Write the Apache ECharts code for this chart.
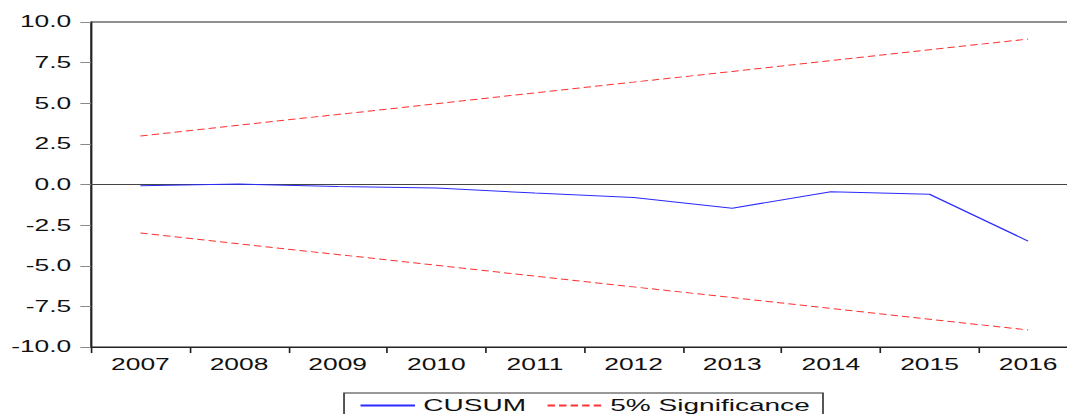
<!DOCTYPE html>
<html>
<head>
<meta charset="utf-8">
<script src="https://cdn.jsdelivr.net/npm/echarts@6/dist/echarts.min.js"></script>
<style>
html,body{margin:0;padding:0;overflow:hidden;background:#fff;width:1067px;height:414px;}
#chart{width:654px;height:414px;transform:scaleX(1.65);transform-origin:0 0;}
</style>
</head>
<body>
<div id="chart"></div>
<script>
const years = ['2007','2008','2009','2010','2011','2012','2013','2014','2015','2016'];
const cusum = [-0.07, 0.03, -0.13, -0.22, -0.53, -0.80, -1.46, -0.44, -0.60, -3.48];
const upper5 = [2.98, 3.65, 4.31, 4.97, 5.64, 6.30, 6.96, 7.63, 8.29, 8.95];
const lower5 = [-2.98, -3.65, -4.31, -4.97, -5.64, -6.30, -6.96, -7.63, -8.29, -8.95];
const yTicks = [-10, -7.5, -5, -2.5, 0, 2.5, 5, 7.5, 10];

const chart = echarts.init(document.getElementById('chart'), null, {renderer:'svg'});
const font = 'Liberation Sans, Arial, sans-serif';
const dash = [4.5, 2.5];
chart.setOption({
  animation:false,
  backgroundColor:'#fff',
  grid:{left:55.2, right:1, top:22, bottom:67, show:true, borderColor:'#222', borderWidth:1, containLabel:false},
  xAxis:{
    type:'category', data:years, boundaryGap:true,
    axisLine:{onZero:false, lineStyle:{color:'#222', width:1}},
    axisTick:{show:true, length:6, lineStyle:{color:'#222'}},
    axisLabel:{color:'#111', fontSize:16, fontFamily:font, margin:9},
    splitLine:{show:false}
  },
  yAxis:{
    type:'value', min:-10, max:10, interval:2.5,
    axisLine:{show:true, lineStyle:{color:'#222', width:1}},
    axisTick:{show:true, length:6.5, lineStyle:{color:'#888'}},
    axisLabel:{color:'#111', fontSize:16, fontFamily:font, margin:12,
      formatter:v => yTicks.includes(v) ? v.toFixed(1) : ''},
    splitLine:{show:false}
  },
  legend:{
    left:208.5, top:393, orient:'horizontal',
    borderColor:'#333', borderWidth:1, padding:[4,8,12,9],
    itemWidth:33, itemHeight:10, itemGap:12,
    itemStyle:{opacity:0},
    textStyle:{color:'#111', fontSize:17, fontFamily:font},
    data:['CUSUM','5% Significance']
  },
  series:[
    {name:'CUSUM', type:'line', data:cusum, symbol:'none', z:3,
     lineStyle:{color:'#2b2bff', width:1}, itemStyle:{color:'#2b2bff'},
     markLine:{silent:true, symbol:'none', label:{show:false}, z:2,
       lineStyle:{color:'#444', width:1, type:'solid'}, data:[{yAxis:0}]}},
    {name:'5% Significance', type:'line', data:upper5, symbol:'none',
     lineStyle:{color:'#ff3333', width:1, type:dash}, itemStyle:{color:'#ff3333'}},
    {name:'5% Significance', type:'line', data:lower5, symbol:'none',
     lineStyle:{color:'#ff3333', width:1, type:dash}, itemStyle:{color:'#ff3333'}}
  ]
});
</script>
</body>
</html>
